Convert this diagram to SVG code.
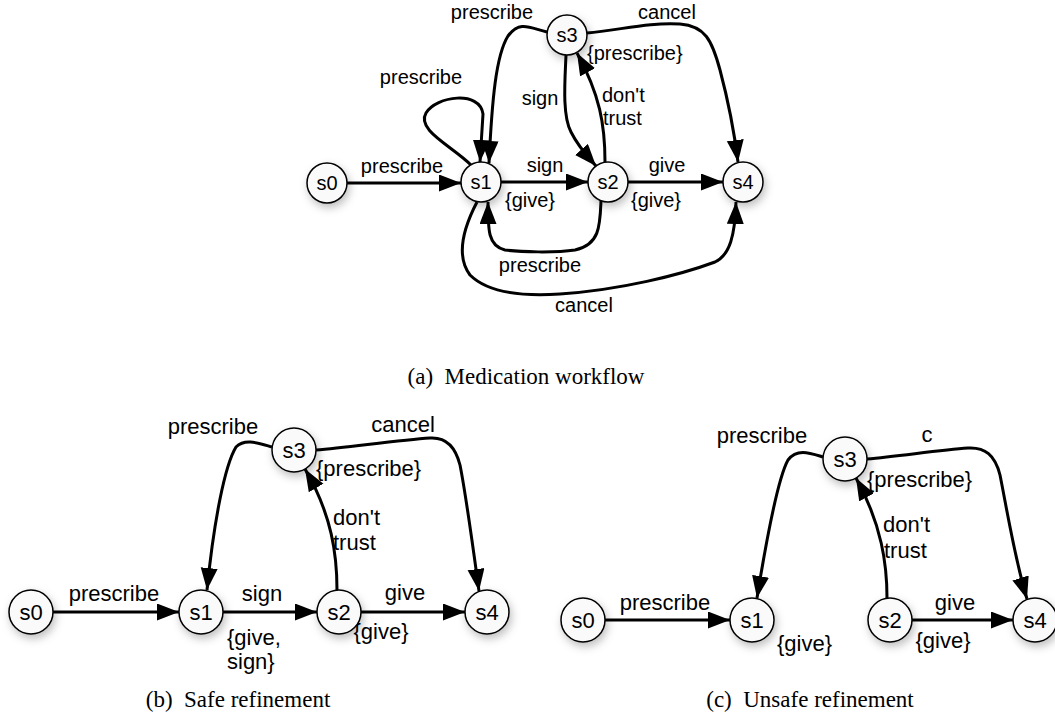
<svg xmlns="http://www.w3.org/2000/svg" width="1055" height="717" viewBox="0 0 1055 717">
<style>
.node circle{fill:#fafafa;stroke:#000;stroke-width:1.5;filter:url(#sh)}
.node text,.lbl{font-family:"Liberation Sans",Arial,sans-serif;font-size:20px;fill:#000}
.big .node text,.big .lbl{font-size:22px}
.node text{text-anchor:middle}
.m{text-anchor:middle}
.edge{fill:none;stroke:#000;stroke-width:3;marker-end:url(#ah)}
.cap{font-family:"Liberation Serif","Times New Roman",serif;font-size:23px;text-anchor:middle;fill:#000}
</style>
<defs>
<filter id="sh" x="-50%" y="-50%" width="200%" height="200%">
<feDropShadow dx="2" dy="4" stdDeviation="4" flood-color="#000" flood-opacity="0.25"/>
</filter>
<marker id="ah" markerUnits="userSpaceOnUse" markerWidth="23" markerHeight="18" refX="22" refY="8.5" orient="auto" viewBox="0 0 23 18">
<path d="M0,0 L22,8.5 L0,17 z" fill="#000"/>
</marker>
</defs>

<!-- (a) Medication workflow -->
<g id="a">
<g id="a-edges">
<path class="edge" d="M347,183 L461,183"/>
<path class="edge" d="M501,182 L588,182"/>
<path class="edge" d="M628,182 L723,182"/>
<path class="edge" d="M471,165 C452,146 416,130 426,113 C436,96 480,90 483,114 L480,162"/>
<path class="edge" d="M547,32 C530,28 520,20 508,36 C496,55 492,100 489,163"/>
<path class="edge" d="M566,55 C565,80 562,115 571,132 C579,148 589,158 596,166"/>
<path class="edge" d="M605,162 C605,125 600,95 577,53"/>
<path class="edge" d="M587,33 C620,30 650,22 680,24 C705,26 712,40 720,70 C728,100 734,130 738,162"/>
<path class="edge" d="M601,201 C600,225 600,245 575,250 C555,253 520,252 505,250 C488,246 488,230 488,202"/>
<path class="edge" d="M477,202 C465,225 455,255 470,275 C490,295 530,296 560,294 C620,290 680,275 715,262 C730,255 735,235 736,202"/>
</g>
<g id="a-labels">
<text class="lbl m" x="402" y="173">prescribe</text>
<text class="lbl m" x="545" y="172">sign</text>
<text class="lbl m" x="667" y="172">give</text>
<text class="lbl" x="505" y="207">{give}</text>
<text class="lbl" x="631" y="207">{give}</text>
<text class="lbl m" x="421" y="84">prescribe</text>
<text class="lbl m" x="492" y="19">prescribe</text>
<text class="lbl m" x="667" y="19">cancel</text>
<text class="lbl" x="587" y="60">{prescribe}</text>
<text class="lbl m" x="540" y="105">sign</text>
<text class="lbl" x="602" y="102">don't</text>
<text class="lbl" x="603" y="125">trust</text>
<text class="lbl m" x="540" y="272">prescribe</text>
<text class="lbl m" x="584" y="312">cancel</text>
</g>
<g id="a-s0" class="node"><circle cx="327" cy="183" r="20"/><text x="327" y="190">s0</text></g>
<g id="a-s1" class="node"><circle cx="481" cy="182" r="20"/><text x="481" y="189">s1</text></g>
<g id="a-s2" class="node"><circle cx="608" cy="182" r="20"/><text x="608" y="189">s2</text></g>
<g id="a-s3" class="node"><circle cx="567" cy="35" r="20"/><text x="567" y="42">s3</text></g>
<g id="a-s4" class="node"><circle cx="743" cy="182" r="20"/><text x="743" y="189">s4</text></g>
</g>
<text class="cap" x="526" y="384">(a)&#160; Medication workflow</text>

<!-- (b) Safe refinement -->
<g id="b" class="big">
<g id="b-edges">
<path class="edge" d="M53,612 L179,612"/>
<path class="edge" d="M223,612 L317,612"/>
<path class="edge" d="M361,612 L465,612"/>
<path class="edge" d="M272,447 C258,443 245,438 236,447 C225,465 214,520 207,590"/>
<path class="edge" d="M337,590 C337,555 332,515 305,469"/>
<path class="edge" d="M316,450 C350,447 400,440 430,438 C445,437 455,445 460,465 C466,495 472,540 479,591"/>
</g>
<g id="b-labels">
<text class="lbl m" x="114" y="601">prescribe</text>
<text class="lbl m" x="213" y="434">prescribe</text>
<text class="lbl m" x="262" y="601">sign</text>
<text class="lbl" x="227" y="645">{give,</text>
<text class="lbl" x="227" y="669">sign}</text>
<text class="lbl m" x="403" y="432">cancel</text>
<text class="lbl" x="316" y="476">{prescribe}</text>
<text class="lbl" x="333" y="525">don't</text>
<text class="lbl" x="333" y="550">trust</text>
<text class="lbl m" x="405" y="600">give</text>
<text class="lbl m" x="381" y="639">{give}</text>
</g>
<g id="b-s0" class="node"><circle cx="31" cy="612" r="22"/><text x="31" y="620">s0</text></g>
<g id="b-s1" class="node"><circle cx="201" cy="612" r="22"/><text x="201" y="620">s1</text></g>
<g id="b-s2" class="node"><circle cx="339" cy="612" r="22"/><text x="339" y="620">s2</text></g>
<g id="b-s3" class="node"><circle cx="294" cy="450" r="22"/><text x="294" y="458">s3</text></g>
<g id="b-s4" class="node"><circle cx="487" cy="612" r="22"/><text x="487" y="620">s4</text></g>
</g>
<text class="cap" x="238" y="707">(b)&#160; Safe refinement</text>

<!-- (c) Unsafe refinement -->
<g id="c" class="big">
<g id="c-edges">
<path class="edge" d="M605,620 L730,620"/>
<path class="edge" d="M912,620 L1013,620"/>
<path class="edge" d="M823,457 C810,453 797,448 788,460 C778,478 768,530 757,598"/>
<path class="edge" d="M887,598 C887,565 882,525 856,478"/>
<path class="edge" d="M867,459 C900,456 940,450 968,448 C985,447 995,455 1000,475 C1007,510 1015,560 1027,599"/>
</g>
<g id="c-labels">
<text class="lbl m" x="665" y="610">prescribe</text>
<text class="lbl m" x="762" y="443">prescribe</text>
<text class="lbl" x="777" y="651">{give}</text>
<text class="lbl m" x="927" y="442">c</text>
<text class="lbl" x="867" y="487">{prescribe}</text>
<text class="lbl" x="883" y="532">don't</text>
<text class="lbl" x="884" y="558">trust</text>
<text class="lbl m" x="955" y="610">give</text>
<text class="lbl m" x="943" y="648">{give}</text>
</g>
<g id="c-s0" class="node"><circle cx="583" cy="620" r="22"/><text x="583" y="628">s0</text></g>
<g id="c-s1" class="node"><circle cx="752" cy="620" r="22"/><text x="752" y="628">s1</text></g>
<g id="c-s2" class="node"><circle cx="890" cy="620" r="22"/><text x="890" y="628">s2</text></g>
<g id="c-s3" class="node"><circle cx="845" cy="459" r="22"/><text x="845" y="467">s3</text></g>
<g id="c-s4" class="node"><circle cx="1035" cy="620" r="22"/><text x="1035" y="628">s4</text></g>
</g>
<text class="cap" x="810" y="707">(c)&#160; Unsafe refinement</text>
</svg>
